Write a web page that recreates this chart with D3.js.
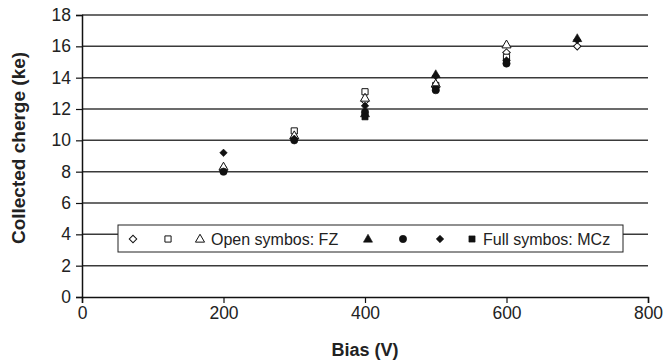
<!DOCTYPE html>
<html>
<head>
<meta charset="utf-8">
<script src="https://cdn.jsdelivr.net/npm/d3@7"></script>
<style>
  body { margin: 0; background: #fff; }
  text { font-family: "Liberation Sans", Arial, sans-serif; fill: #222; }
</style>
</head>
<body>
<div id="chart"></div>
<script>
// bias values (V) and collected charge (ke) per series
const fzDiamondX = [200, 300, 400, 500, 600, 700];
const fzDiamondY = [8.1, 10.1, 12.5, 13.4, 15.6, 16.0];
const fzSquareX = [200, 300, 400, 500, 600];
const fzSquareY = [8.1, 10.6, 13.1, 13.5, 15.3];
const fzTriangleX = [200, 300, 400, 500, 600];
const fzTriangleY = [8.3, 10.3, 12.7, 13.6, 16.1];
const mczTriangleX = [400, 500, 700];
const mczTriangleY = [11.7, 14.2, 16.5];
const mczCircleX = [200, 300, 400, 500, 600];
const mczCircleY = [8.0, 10.0, 11.8, 13.2, 14.9];
const mczDiamondX = [200, 300, 400, 500, 600, 700];
const mczDiamondY = [9.2, 10.1, 12.2, 14.1, 15.1, 16.4];
const mczSquareX = [400, 500, 600];
const mczSquareY = [11.5, 13.3, 15.0];

const xTicks = [0, 200, 400, 600, 800];
const yTicks = [0, 2, 4, 6, 8, 10, 12, 14, 16, 18];

const series = [
  {shape: 'diamond', open: true, xs: fzDiamondX, ys: fzDiamondY},
  {shape: 'square', open: true, xs: fzSquareX, ys: fzSquareY},
  {shape: 'triangle', open: true, xs: fzTriangleX, ys: fzTriangleY, label: 'Open symbos: FZ'},
  {shape: 'triangle', open: false, xs: mczTriangleX, ys: mczTriangleY},
  {shape: 'circle', open: false, xs: mczCircleX, ys: mczCircleY},
  {shape: 'diamond', open: false, xs: mczDiamondX, ys: mczDiamondY},
  {shape: 'square', open: false, xs: mczSquareX, ys: mczSquareY, label: 'Full symbos: MCz'}
];

const width = 668, height = 363;
const margin = {top: 15, right: 20, bottom: 66, left: 82};
const w = width - margin.left - margin.right;
const h = height - margin.top - margin.bottom;

const svg = d3.select('#chart').append('svg')
    .attr('width', width)
    .attr('height', height);

const chart = svg.append('g')
    .attr('transform', `translate(${margin.left},${margin.top})`);

const x = d3.scaleLinear().domain([0, 800]).range([0, w]);
const y = d3.scaleLinear().domain([0, 18]).range([h, 0]);

// gridlines
chart.selectAll('.grid')
    .data(yTicks.filter(d => d > 0))
  .join('line')
    .attr('class', 'grid')
    .attr('x1', 0).attr('x2', w)
    .attr('y1', d => y(d)).attr('y2', d => y(d))
    .attr('stroke', '#3a3a3a')
    .attr('stroke-width', 1.5);

// axes
const yAxis = chart.append('g')
    .call(d3.axisLeft(y).tickValues(yTicks).tickSize(6).tickPadding(5));
const xAxis = chart.append('g')
    .attr('transform', `translate(0,${h})`)
    .call(d3.axisBottom(x).tickValues(xTicks).tickSize(6).tickPadding(4));

[xAxis, yAxis].forEach(a => {
  a.select('.domain').attr('stroke', '#111').attr('stroke-width', 1.5);
  a.selectAll('.tick line').attr('stroke', '#111').attr('stroke-width', 1.2);
  a.selectAll('.tick text')
      .style('font-family', '"Liberation Sans", Arial, sans-serif')
      .style('font-size', '17.5px')
      .attr('fill', '#222');
});

svg.append('text')
    .attr('x', margin.left + w / 2)
    .attr('y', 356)
    .attr('text-anchor', 'middle')
    .style('font-size', '18px')
    .style('font-weight', 'bold')
    .text('Bias (V)');

svg.append('text')
    .attr('transform', `translate(25,${margin.top + h / 2 - 8}) rotate(-90)`)
    .attr('text-anchor', 'middle')
    .style('font-size', '19px')
    .style('font-weight', 'bold')
    .text('Collected cherge (ke)');

// marker helper
function drawMarker(g, s, cx, cy) {
  let m;
  if (s.shape === 'diamond') {
    m = g.append('path')
        .attr('d', d3.symbol(d3.symbolSquare, 28)())
        .attr('transform', `translate(${cx},${cy}) rotate(45)`);
  } else if (s.shape === 'square') {
    m = g.append('path')
        .attr('d', d3.symbol(d3.symbolSquare, 38)())
        .attr('transform', `translate(${cx},${cy})`);
  } else if (s.shape === 'triangle') {
    m = g.append('path')
        .attr('d', d3.symbol(d3.symbolTriangle, 36)())
        .attr('transform', `translate(${cx},${cy + 0.5})`);
  } else {
    m = g.append('path')
        .attr('d', d3.symbol(d3.symbolCircle, 42)())
        .attr('transform', `translate(${cx},${cy})`);
  }
  m.attr('fill', s.open ? '#fff' : '#111')
   .attr('stroke', '#111')
   .attr('stroke-width', s.open ? 1 : 0.6);
}

const points = chart.append('g');
series.forEach(s => {
  s.xs.forEach((xv, i) => drawMarker(points, s, x(xv), y(s.ys[i])));
});

// legend
const legend = svg.append('g').attr('transform', 'translate(118,225)');
legend.append('rect')
    .attr('width', 505).attr('height', 27)
    .attr('fill', '#fff')
    .attr('stroke', '#222')
    .attr('stroke-width', 1);

const legendX = [15, 50, 82, 250, 285, 322, 354];
series.forEach((s, i) => {
  drawMarker(legend, s, legendX[i], 14);
  if (s.label) {
    legend.append('text')
        .attr('x', legendX[i] + 11)
        .attr('y', 14)
        .attr('dy', '0.35em')
        .style('font-size', '16px')
        .text(s.label);
  }
});
</script>
</body>
</html>
